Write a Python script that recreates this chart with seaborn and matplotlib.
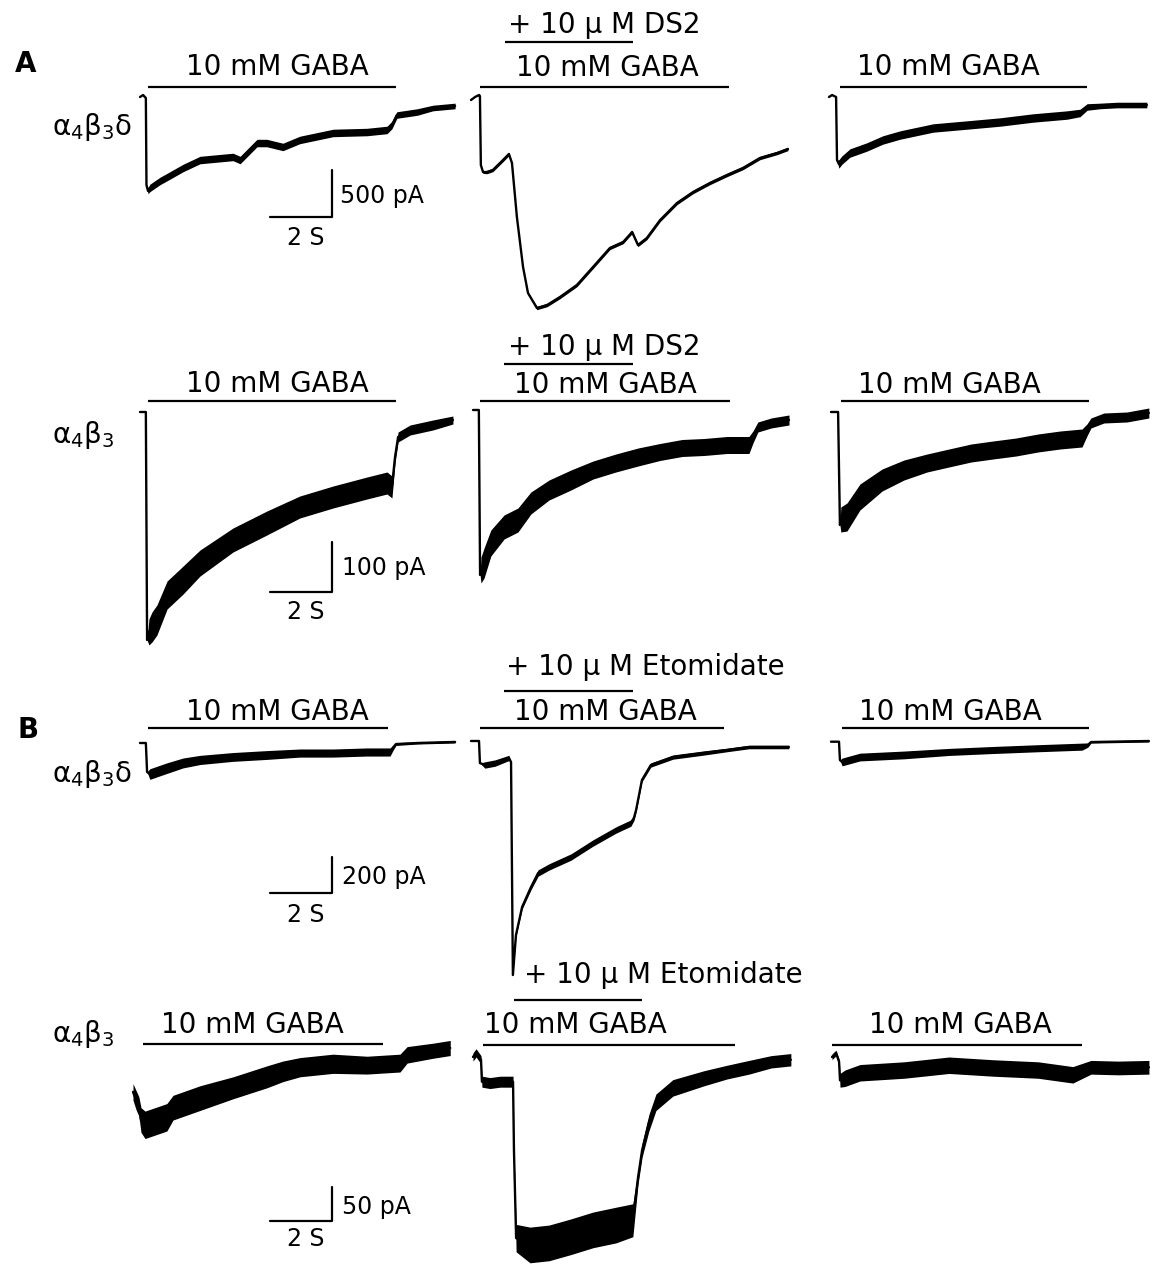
import matplotlib
matplotlib.use("Agg")
import matplotlib.pyplot as plt
from matplotlib.transforms import blended_transform_factory
import numpy as np
import seaborn as sns

sns.set_style("white")
plt.rcParams["font.family"] = ["DejaVu Sans"]
plt.rcParams["mathtext.default"] = "regular"
plt.rcParams["text.color"] = "black"

# ---------------- data (time in s from trace start, current in pA) ----------------
# Row 1: alpha4beta3delta, DS2
r1p1_t = [0, 0.10, 0.19, 0.21, 0.26, 0.32, 0.65, 0.88, 1.40, 1.95, 3.02, 3.25, 3.80, 4.12, 4.64, 5.19, 6.27, 7.37, 8.02, 8.18, 8.34, 9.00, 9.51, 10.23]
r1p1_i = [0, 21, -11, -942, -1006, -974, -899, -857, -760, -675, -642, -675, -493, -493, -535, -460, -385, -375, -353, -300, -193, -161, -118, -96]
r1p1_w = [0, 0, 0, 0, 30, 40, 40, 40, 40, 40, 40, 40, 40, 40, 40, 40, 40, 40, 40, 40, 35, 35, 30, 30]

r1p2_t = [0, 0.13, 0.26, 0.29, 0.32, 0.39, 0.52, 0.71, 1.04, 1.23, 1.33, 1.49, 1.69, 1.85, 2.14, 2.47, 2.89, 3.44, 3.96, 4.51, 4.94, 5.23, 5.42, 5.71, 6.14, 6.69, 7.21, 7.76, 8.31, 8.83, 9.38, 9.94, 10.29]
r1p2_i = [-11, 21, 43, 32, -707, -782, -782, -760, -653, -589, -685, -1263, -1799, -2077, -2238, -2206, -2120, -1991, -1799, -1595, -1531, -1424, -1563, -1488, -1296, -1113, -996, -899, -814, -739, -632, -578, -535]
r1p2_w = [0, 0, 0, 0, 0, 15, 18, 18, 18, 18, 10, 0, 0, 10, 18, 18, 18, 18, 18, 18, 18, 18, 18, 18, 18, 18, 18, 18, 18, 18, 18, 18, 18]

r1p3_t = [0, 0.10, 0.23, 0.26, 0.32, 0.42, 0.68, 1.23, 1.75, 2.31, 3.38, 4.48, 5.55, 6.62, 7.73, 8.15, 8.38, 8.80, 9.35, 10.32]
r1p3_i = [0, 21, 0, -675, -717, -675, -600, -535, -460, -407, -332, -300, -268, -225, -193, -171, -107, -96, -86, -86]
r1p3_w = [0, 0, 0, 0, 45, 45, 45, 45, 45, 45, 45, 45, 45, 45, 45, 40, 35, 30, 30, 30]

# Row 2: alpha4beta3, DS2
r2p1_t = [0, 0.19, 0.23, 0.29, 0.39, 0.55, 0.88, 1.40, 1.95, 3.02, 4.12, 5.19, 6.27, 7.37, 8.02, 8.18, 8.28, 8.38, 8.77, 9.51, 10.16]
r2p1_i = [0, 0, -456, -440, -430, -416, -366, -336, -302, -256, -222, -190, -170, -152, -142, -150, -90, -50, -36, -26, -16]
r2p1_w = [0, 0, 0, 26, 30, 30, 28, 28, 26, 24, 24, 22, 22, 22, 22, 22, 12, 10, 10, 10, 8]

r2p2_t = [0, 0.19, 0.23, 0.26, 0.36, 0.58, 1.01, 1.46, 1.88, 2.47, 3.18, 3.90, 4.64, 5.36, 6.07, 6.79, 7.50, 8.25, 8.96, 9.09, 9.25, 9.68, 10.26]
r2p2_i = [0, 0, -330, -320, -306, -266, -234, -220, -186, -160, -140, -120, -106, -94, -84, -76, -74, -70, -70, -54, -34, -26, -20]
r2p2_w = [0, 0, 0, 26, 30, 26, 24, 24, 22, 20, 20, 18, 18, 18, 17, 17, 17, 17, 17, 12, 10, 10, 10]

r2p3_t = [0, 0.23, 0.29, 0.32, 0.52, 0.94, 1.66, 2.37, 3.12, 3.83, 4.55, 5.26, 6.01, 6.72, 7.44, 8.15, 8.31, 8.44, 8.86, 9.61, 10.32]
r2p3_i = [0, 0, -226, -215, -210, -170, -136, -116, -102, -92, -82, -76, -70, -62, -56, -52, -36, -22, -12, -10, -2]
r2p3_w = [0, 0, 0, 25, 28, 26, 22, 20, 18, 18, 18, 18, 18, 18, 18, 18, 12, 10, 10, 10, 10]

# Row 3: alpha4beta3delta, etomidate
r3p1_t = [0, 0.19, 0.23, 0.32, 0.88, 1.40, 1.95, 3.02, 4.12, 5.19, 6.27, 7.37, 8.12, 8.21, 8.31, 9.00, 10.23]
r3p1_i = [0, 0, -164, -176, -142, -113, -96, -79, -68, -57, -57, -51, -51, -28, -6, 0, 6]
r3p1_w = [0, 0, 0, 30, 30, 28, 26, 25, 25, 23, 23, 23, 23, 15, 8, 6, 6]

r3p2_t = [0, 0.26, 0.29, 0.45, 0.78, 1.23, 1.30, 1.36, 1.46, 1.66, 1.95, 2.18, 2.53, 3.25, 3.96, 4.71, 5.19, 5.29, 5.36, 5.55, 5.84, 6.56, 7.56, 8.31, 9.03, 10.32]
r3p2_i = [0, 0, -125, -136, -125, -96, -119, -1326, -1099, -940, -827, -748, -714, -657, -578, -504, -465, -436, -391, -221, -136, -91, -68, -51, -34, -34]
r3p2_w = [0, 0, 0, 18, 18, 15, 0, 0, 10, 12, 15, 18, 18, 18, 18, 18, 18, 15, 10, 10, 12, 12, 12, 10, 10, 10]

r3p3_t = [0, 0.26, 0.29, 0.36, 0.94, 2.37, 3.83, 5.26, 6.72, 8.15, 8.34, 8.44, 10.32]
r3p3_i = [0, 0, -104, -115, -87, -75, -58, -47, -37, -28, -19, -2, 4]
r3p3_w = [0, 0, 0, 22, 22, 22, 20, 20, 20, 20, 12, 6, 6]

# Row 4: alpha4beta3, etomidate
r4p1_t = [0, 0.10, 0.19, 0.26, 0.39, 0.78, 1.10, 1.30, 2.18, 3.25, 4.35, 4.87, 5.42, 6.49, 7.60, 8.67, 8.90, 9.74, 10.30]
r4p1_i = [-64, -76, -85, -105, -112, -106, -101, -87, -73, -58, -42, -34, -28, -23, -25, -22, -10, -4, 0]
r4p1_w = [12, 14, 14, 18, 20, 20, 20, 18, 18, 16, 16, 15, 14, 14, 13, 13, 12, 11, 11]

r4p2_t = [0, 0.10, 0.26, 0.29, 0.55, 0.88, 1.30, 1.33, 1.40, 1.85, 2.47, 3.18, 3.90, 4.64, 5.19, 5.36, 5.49, 5.71, 5.94, 6.49, 7.50, 8.25, 8.96, 9.68, 10.32]
r4p2_i = [0, 6, -4, -36, -38, -36, -36, -136, -264, -274, -271, -262, -252, -245, -238, -175, -136, -96, -66, -45, -31, -22, -15, -7, -4]
r4p2_w = [6, 6, 6, 8, 8, 8, 8, 0, 20, 26, 26, 26, 26, 26, 24, 10, 10, 12, 12, 12, 11, 10, 10, 9, 9]

r4p3_t = [0, 0.13, 0.23, 0.26, 0.42, 0.91, 2.34, 3.80, 5.23, 6.69, 7.82, 8.41, 9.29, 10.29]
r4p3_i = [0, 6, -7, -34, -31, -23, -19, -12, -16, -19, -26, -15, -16, -15]
r4p3_w = [4, 4, 4, 10, 12, 12, 12, 12, 12, 12, 12, 10, 10, 10]

# application periods (s from trace start)
gaba_on  = [[0.26, 0.29, 0.36], [0.26, 0.23, 0.32], [0.26, 0.29, 0.36], [0.32, 0.32, 0.00]]
gaba_off = [[8.31, 8.38, 8.38], [8.31, 8.34, 8.38], [8.05, 8.21, 8.38], [8.12, 8.51, 8.12]]
drug_on  = [1.10, 1.01, 1.07, 1.33]
drug_off = [5.26, 5.19, 5.26, 5.49]
drug_labels = ["+ 10 μ M DS2", "+ 10 μ M DS2", "+ 10 μ M Etomidate", "+ 10 μ M Etomidate"]
gaba_label = "10 mM GABA"
row_labels = ["α$_4$β$_3$δ", "α$_4$β$_3$", "α$_4$β$_3$δ", "α$_4$β$_3$"]
scale_pa = [500, 100, 200, 50]
scale_s = 2
scale_units = ["500 pA", "100 pA", "200 pA", "50 pA"]

traces = [
    [(r1p1_t, r1p1_i, r1p1_w), (r1p2_t, r1p2_i, r1p2_w), (r1p3_t, r1p3_i, r1p3_w)],
    [(r2p1_t, r2p1_i, r2p1_w), (r2p2_t, r2p2_i, r2p2_w), (r2p3_t, r2p3_i, r2p3_w)],
    [(r3p1_t, r3p1_i, r3p1_w), (r3p2_t, r3p2_i, r3p2_w), (r3p3_t, r3p3_i, r3p3_w)],
    [(r4p1_t, r4p1_i, r4p1_w), (r4p2_t, r4p2_i, r4p2_w), (r4p3_t, r4p3_i, r4p3_w)],
]

# ---------------- layout (pixels) ----------------
FIG_W, FIG_H = 1154, 1266
PX_PER_S = 30.8
ROW_PX_PER_PA = [46.7 / 500, 50.0 / 100, 35.3 / 200, 34.3 / 50]
ORIGINS = [
    [(140, 97), (471, 99), (829, 97)],
    [(140, 412), (473, 410), (831, 412)],
    [(140, 743), (471, 741), (831, 741.7)],
    [(133, 1048), (473, 1057), (832, 1057)],
]
GABA_BAR_Y = [[86.7, 86.7, 86.7], [400.7, 400.7, 400.7], [728.3, 728.3, 728.3], [1044.3, 1045, 1045]]
GABA_TXT = [[(277, 75), (607, 76), (948, 75)],
            [(277, 392), (605, 393), (949, 393)],
            [(277, 720), (605, 720), (950, 720)],
            [(252, 1033), (575, 1033), (960, 1033)]]
DRUG_BAR_Y = [41.7, 364.0, 690.7, 1000.0]
DRUG_TXT = [(604, 33), (604, 355), (645, 675), (663, 983)]
ROW_LABEL_POS = [(52, 135), (52, 443), (52, 782), (52, 1042)]
SCALE_CORNER = [(331.7, 216.7), (331.7, 591.7), (331.7, 892.7), (331.7, 1221)]
SCALE_PA_TXT = [(340, 203), (342, 575), (342, 884), (342, 1214)]
SCALE_S_TXT = [(306, 245), (306, 619), (306, 922), (306, 1246)]

fig = plt.figure(figsize=(FIG_W / 100, FIG_H / 100), dpi=100)


def px(x, y):
    return x / FIG_W, 1 - y / FIG_H


def make_axes(x0, y0, sy):
    ax = fig.add_axes([0, 0, 1, 1])
    ax.set_xlim(-x0 / PX_PER_S, (FIG_W - x0) / PX_PER_S)
    ax.set_ylim(-(FIG_H - y0) / sy, y0 / sy)
    ax.set_axis_off()
    ax.patch.set_alpha(0)
    return ax


LW = 1.7
for r in range(4):
    sy = ROW_PX_PER_PA[r]
    for p in range(3):
        t, i, w = (np.asarray(a, dtype=float) for a in traces[r][p])
        x0, y0 = ORIGINS[r][p]
        ax = make_axes(x0, y0, sy)
        ax.fill_between(t, i - w, i + w, color="black", lw=0)
        sns.lineplot(x=t, y=i, ax=ax, color="black", linewidth=LW,
                     estimator=None, sort=False, legend=False)
        trans = blended_transform_factory(ax.transData, fig.transFigure)
        yb = 1 - GABA_BAR_Y[r][p] / FIG_H
        ax.plot([gaba_on[r][p], gaba_off[r][p]], [yb, yb], transform=trans,
                color="black", lw=1.6, solid_capstyle="butt")
        tx, ty = GABA_TXT[r][p]
        fig.text(*px(tx, ty), gaba_label, ha="center", va="baseline", fontsize=20)
        if p == 1:
            yd = 1 - DRUG_BAR_Y[r] / FIG_H
            ax.plot([drug_on[r], drug_off[r]], [yd, yd], transform=trans,
                    color="black", lw=1.6, solid_capstyle="butt")
            dx, dy = DRUG_TXT[r]
            fig.text(*px(dx, dy), drug_labels[r], ha="center", va="baseline", fontsize=20)

    # scale bar
    cx, cy = SCALE_CORNER[r]
    sax = make_axes(cx, cy, sy)
    sns.lineplot(x=[-scale_s, 0, 0], y=[0, 0, scale_pa[r]], ax=sax, color="black",
                 linewidth=1.6, estimator=None, sort=False, legend=False)
    fig.text(*px(*SCALE_PA_TXT[r]), scale_units[r], ha="left", va="baseline", fontsize=17)
    fig.text(*px(*SCALE_S_TXT[r]), f"{scale_s} S", ha="center", va="baseline", fontsize=17)

    lx, ly = ROW_LABEL_POS[r]
    fig.text(*px(lx, ly), row_labels[r], ha="left", va="baseline", fontsize=20)

fig.text(*px(15, 72), "A", ha="left", va="baseline", fontsize=20, fontweight="bold")
fig.text(*px(17, 738), "B", ha="left", va="baseline", fontsize=20, fontweight="bold")

fig.savefig("out.png", dpi=100, facecolor="white")
